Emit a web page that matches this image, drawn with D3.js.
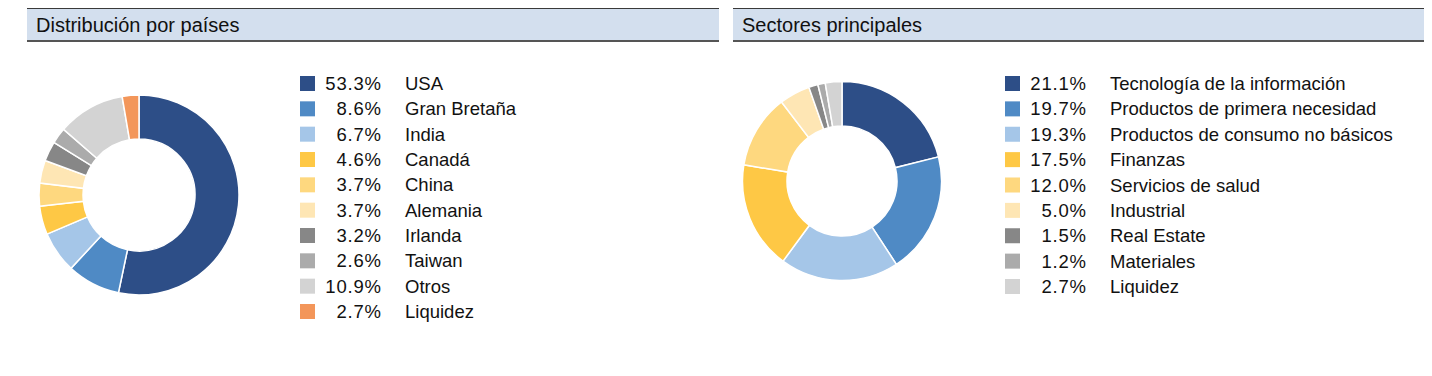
<!DOCTYPE html>
<html>
<head>
<meta charset="utf-8">
<script src="https://cdn.jsdelivr.net/npm/d3@7"></script>
<style>
  body { margin: 0; background: #fff; }
  svg { display: block; font-family: "Liberation Sans", Arial, sans-serif; }
</style>
</head>
<body>
<div id="chart"></div>
<script>
// data
const countryLabels = ["USA", "Gran Bretaña", "India", "Canadá", "China", "Alemania", "Irlanda", "Taiwan", "Otros", "Liquidez"];
const countryValues = [53.3, 8.6, 6.7, 4.6, 3.7, 3.7, 3.2, 2.6, 10.9, 2.7];
const countryColors = ["#2d4e87", "#4f8ac5", "#a5c6e8", "#fec845", "#fed87f", "#fee6b4", "#878787", "#ababab", "#d3d3d3", "#f3965a"];

const sectorLabels = ["Tecnología de la información", "Productos de primera necesidad", "Productos de consumo no básicos", "Finanzas", "Servicios de salud", "Industrial", "Real Estate", "Materiales", "Liquidez"];
const sectorValues = [21.1, 19.7, 19.3, 17.5, 12.0, 5.0, 1.5, 1.2, 2.7];
const sectorColors = ["#2d4e87", "#4f8ac5", "#a5c6e8", "#fec845", "#fed87f", "#fee6b4", "#878787", "#ababab", "#d3d3d3"];

const W = 1432, H = 376;
const svg = d3.select("#chart").append("svg")
    .attr("width", W)
    .attr("height", H);

function panel(cfg) {
    const g = svg.append("g");

    // header band
    g.append("rect")
        .attr("x", cfg.x0).attr("y", 8)
        .attr("width", cfg.x1 - cfg.x0).attr("height", 33)
        .attr("fill", "#d3dfee");
    g.append("line")
        .attr("x1", cfg.x0).attr("x2", cfg.x1)
        .attr("y1", 8.5).attr("y2", 8.5)
        .attr("stroke", "#3a3a3a").attr("stroke-width", 1.2);
    g.append("line")
        .attr("x1", cfg.x0).attr("x2", cfg.x1)
        .attr("y1", 41).attr("y2", 41)
        .attr("stroke", "#555").attr("stroke-width", 2);
    g.append("text")
        .attr("x", cfg.x0 + 9).attr("y", 31.5)
        .attr("font-size", 20)
        .attr("fill", "#111")
        .text(cfg.title);

    // donut
    const pie = d3.pie().sort(null).value(d => d);
    const arc = d3.arc().innerRadius(cfg.r0).outerRadius(cfg.r1);
    const color = d3.scaleOrdinal().domain(cfg.labels).range(cfg.colors);

    g.append("g")
        .attr("transform", `translate(${cfg.cx},${cfg.cy})`)
        .selectAll("path")
        .data(pie(cfg.values))
        .enter().append("path")
        .attr("d", arc)
        .attr("fill", (d, i) => color(cfg.labels[i]))
        .attr("stroke", "#fff")
        .attr("stroke-width", 1.5);

    // legend
    const y = d3.scalePoint().domain(cfg.labels).range([cfg.ly0, cfg.ly1]);
    const item = g.selectAll(".legend-item")
        .data(cfg.labels)
        .enter().append("g")
        .attr("class", "legend-item")
        .attr("transform", d => `translate(${cfg.lx},${y(d)})`);

    item.append("rect")
        .attr("x", 0).attr("y", -7.5)
        .attr("width", 15).attr("height", 15)
        .attr("fill", d => color(d));

    item.append("text")
        .attr("x", 81.8).attr("y", 6.5)
        .attr("text-anchor", "end")
        .attr("font-size", 18.5)
        .attr("letter-spacing", 0.8)
        .attr("fill", "#111")
        .text((d, i) => cfg.values[i].toFixed(1) + "%");

    item.append("text")
        .attr("x", 105).attr("y", 6.5)
        .attr("font-size", 18.5)
        .attr("fill", "#111")
        .text(d => d);
}

panel({
    title: "Distribución por países",
    x0: 27, x1: 719,
    cx: 139, cy: 195, r0: 56, r1: 100,
    labels: countryLabels, values: countryValues, colors: countryColors,
    lx: 300, ly0: 83.5, ly1: 311.5
});

panel({
    title: "Sectores principales",
    x0: 733, x1: 1424,
    cx: 842, cy: 181, r0: 55, r1: 99.5,
    labels: sectorLabels, values: sectorValues, colors: sectorColors,
    lx: 1005, ly0: 83.5, ly1: 286.5
});
</script>
</body>
</html>
